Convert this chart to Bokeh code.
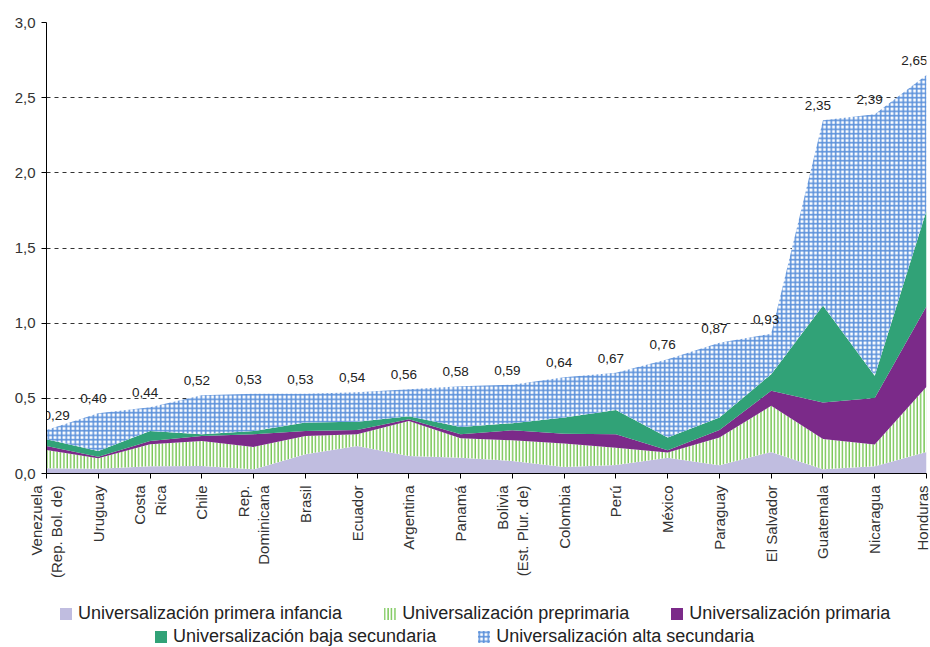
from bokeh.plotting import figure
from bokeh.layouts import column
from bokeh.models import (ColumnDataSource, FixedTicker, CustomJSTickFormatter,
                          Legend, LegendItem, Range1d)
from bokeh.core.properties import value
from bokeh.embed import file_html
from bokeh.resources import INLINE

countries = ["Venezuela\n(Rep. Bol. de)", "Uruguay", "Costa\nRica", "Chile",
             "Rep.\nDominicana", "Brasil", "Ecuador", "Argentina", "Panamá",
             "Bolivia\n(Est. Plur. de)", "Colombia", "Perú", "México", "Paraguay",
             "El Salvador", "Guatemala", "Nicaragua", "Honduras"]

primera_infancia = [0.035, 0.032, 0.048, 0.050, 0.028, 0.128, 0.183, 0.117, 0.105,
                    0.083, 0.043, 0.057, 0.105, 0.055, 0.143, 0.028, 0.048, 0.143]
preprimaria = [0.122, 0.069, 0.147, 0.167, 0.149, 0.122, 0.078, 0.233, 0.130,
               0.138, 0.156, 0.115, 0.034, 0.184, 0.307, 0.202, 0.145, 0.434]
primaria = [0.026, 0.011, 0.022, 0.033, 0.084, 0.033, 0.029, 0.011, 0.026,
            0.067, 0.066, 0.089, 0.016, 0.051, 0.100, 0.242, 0.310, 0.535]
baja_secundaria = [0.045, 0.038, 0.066, 0.011, 0.022, 0.056, 0.055, 0.020, 0.049,
                   0.047, 0.107, 0.162, 0.084, 0.082, 0.111, 0.645, 0.147, 0.638]
alta_secundaria = [0.062, 0.250, 0.157, 0.259, 0.247, 0.191, 0.195, 0.179, 0.270,
                   0.255, 0.268, 0.247, 0.521, 0.498, 0.269, 1.233, 1.740, 0.900]
totales = [0.29, 0.40, 0.44, 0.52, 0.53, 0.53, 0.54, 0.56, 0.58,
           0.59, 0.64, 0.67, 0.76, 0.87, 0.93, 2.35, 2.39, 2.65]

series = ["infancia", "preprimaria", "primaria", "baja", "alta"]
nombres = ["Universalización primera infancia", "Universalización preprimaria",
           "Universalización primaria", "Universalización baja secundaria",
           "Universalización alta secundaria"]

FONT = "Liberation Sans"
n = len(countries)
xs = list(range(n))

# primera etiqueta alineada a la izquierda, la última a la derecha (bordes del área)
alineacion = ["left" if i == 0 else "right" if i == n - 1 else "center" for i in xs]
desplaz = [-3 if i == 0 else 1 if i == n - 1 else -5 for i in xs]

source = ColumnDataSource(dict(
    x=xs,
    infancia=primera_infancia,
    preprimaria=preprimaria,
    primaria=primaria,
    baja=baja_secundaria,
    alta=alta_secundaria,
    total=totales,
    label=[f"{v:.2f}".replace(".", ",") for v in totales],
    align=alineacion,
    dx=desplaz,
))

estilos = dict(
    fill_color=["#c0bde0", "white", "#7b2a89", "#31a277", "white"],
    hatch_pattern=[None, "vertical_line", None, None, "cross"],
    hatch_color=["#c0bde0", "#6cc146", "#7b2a89", "#31a277", "#5a90da"],
    hatch_scale=[4, 3.4, 4, 4, 4.5],
    hatch_weight=[1, 1.3, 1, 1, 1.6],
)

p = figure(width=930, height=590, title=None, toolbar_location=None, tools="",
           output_backend="svg",
           x_range=Range1d(0, n - 1), y_range=Range1d(0, 3.0),
           min_border_left=46, min_border_right=4, min_border_top=22,
           min_border_bottom=117)
p.outline_line_color = None

renderers = p.varea_stack(stackers=series, x="x", source=source, **estilos)

p.text(x="x", y="total", text="label", source=source,
       text_font=value(FONT), text_font_size="13.5px", text_color="#222222",
       text_align="align", x_offset="dx", text_baseline="bottom", y_offset=-10)

# ejes
p.xaxis.ticker = FixedTicker(ticks=xs)
p.xaxis.major_label_overrides = {i: c for i, c in enumerate(countries)}
p.xaxis.major_label_orientation = 3.14159265 / 2
p.xaxis.major_label_text_font = FONT
p.xaxis.major_label_text_font_size = "15px"
p.xaxis.major_label_text_color = "#333333"
p.xaxis.major_label_standoff = 7
p.xaxis.minor_tick_line_color = None
p.xaxis.major_tick_in = 0
p.xaxis.major_tick_out = 5
p.xaxis.axis_line_color = "black"
p.xaxis.major_tick_line_color = "black"

p.yaxis.ticker = FixedTicker(ticks=[0, 0.5, 1.0, 1.5, 2.0, 2.5, 3.0])
p.yaxis.formatter = CustomJSTickFormatter(code="return tick.toFixed(1).replace('.', ',');")
p.yaxis.major_label_text_font = FONT
p.yaxis.major_label_text_font_size = "15px"
p.yaxis.major_label_text_color = "#333333"
p.yaxis.minor_tick_line_color = None
p.yaxis.major_tick_in = 0
p.yaxis.major_tick_out = 5
p.yaxis.major_label_standoff = 6
p.yaxis.axis_line_color = "black"
p.yaxis.major_tick_line_color = "black"

p.xgrid.grid_line_color = None
p.ygrid.grid_line_color = "#333333"
p.ygrid.grid_line_dash = "4 4"
p.ygrid.grid_line_width = 1

# leyenda en dos filas centradas, en una franja aparte
leg = figure(width=930, height=57, toolbar_location=None, tools="",
             output_backend="svg", x_axis_type=None, y_axis_type=None,
             x_range=Range1d(0, 1), y_range=Range1d(0, 1),
             min_border=0)
leg.outline_line_color = None
leg.grid.visible = False
muestras = [leg.varea(x=[0], y1=[0], y2=[0], **{k: v[i] for k, v in estilos.items()})
            for i in range(len(series))]


def make_legend(idx, loc):
    lg = Legend(items=[LegendItem(label=nombres[i], renderers=[muestras[i]]) for i in idx],
                orientation="horizontal", location=loc,
                label_text_font=FONT, label_text_font_size="18px",
                label_text_color="#222222", glyph_width=15, glyph_height=15,
                label_standoff=5, spacing=40, padding=0, margin=0,
                border_line_color=None, background_fill_alpha=0)
    leg.add_layout(lg, "center")


make_legend([0, 1, 2], (12, 23))
make_legend([3, 4], (107, 0))

open("out.html", "w").write(file_html(column(p, leg), INLINE))
